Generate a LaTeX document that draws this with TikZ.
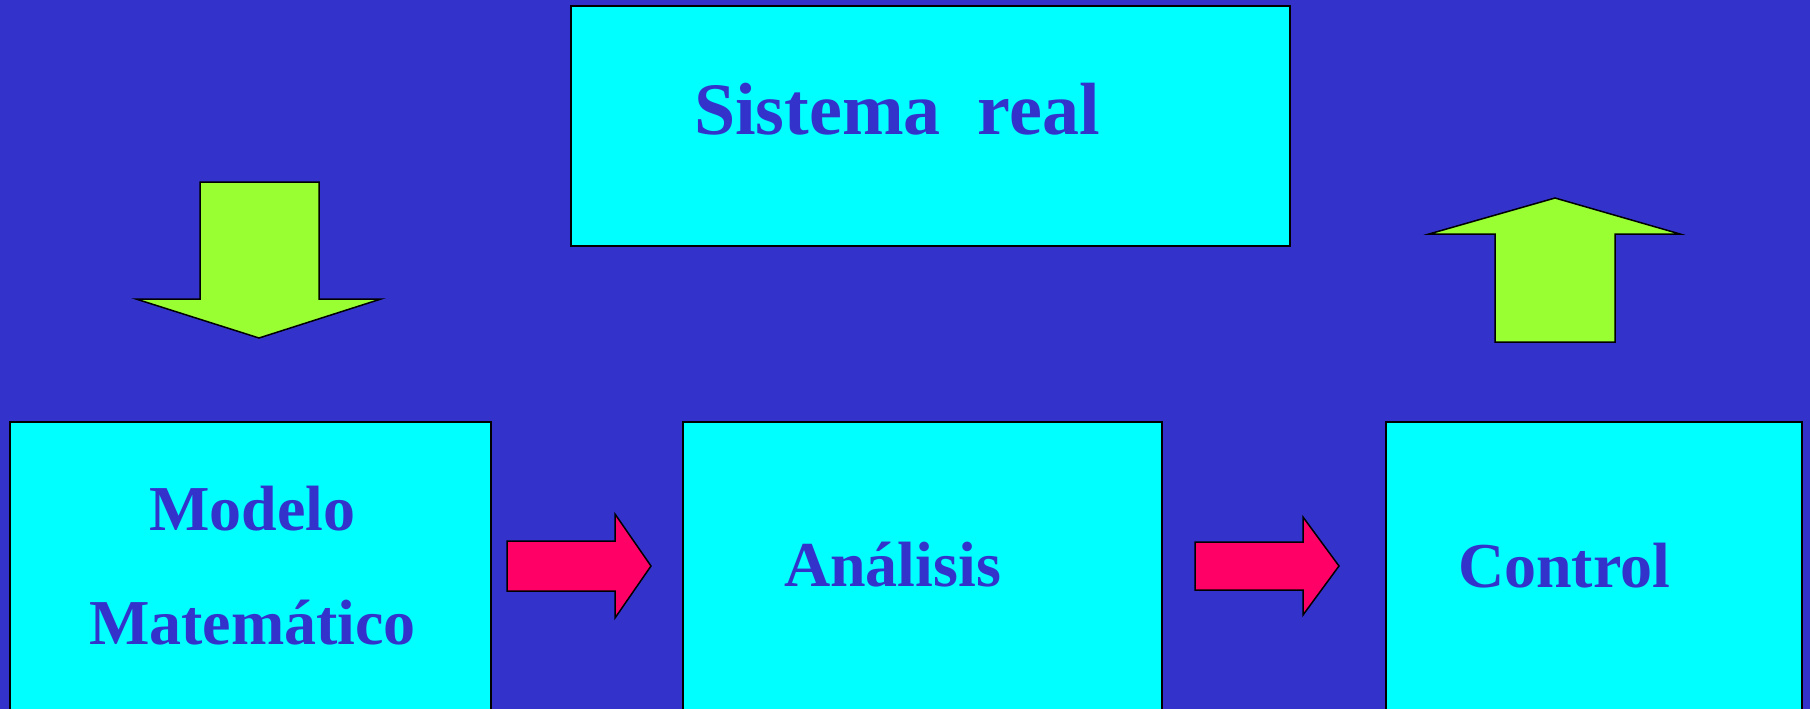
\documentclass[tikz,border=0pt]{standalone}
\usepackage{fontspec}
\setmainfont{Liberation Serif}
\definecolor{bgblue}{RGB}{51,51,204}
\definecolor{boxcyan}{RGB}{0,255,255}
\definecolor{arrgreen}{RGB}{153,255,51}
\definecolor{arrred}{RGB}{255,0,102}
\tikzset{
  box/.style={draw=black, line width=1.5pt, fill=boxcyan, anchor=north west, inner sep=0pt, outer sep=0pt},
  label/.style={anchor=base west, inner sep=0pt, outer sep=0pt, text=bgblue, font=\bfseries\fontsize{64}{64}\selectfont},
  biglabel/.style={anchor=base west, inner sep=0pt, outer sep=0pt, text=bgblue, font=\bfseries\fontsize{74}{74}\selectfont},
  greenarrow/.style={draw=black, line width=1.5pt, fill=arrgreen, line join=miter},
  redarrow/.style={draw=black, line width=1.5pt, fill=arrred, line join=miter}
}
\begin{document}
\begin{tikzpicture}[x=1pt, y=-1pt]
\fill[bgblue] (0,0) rectangle (1810,709);
\useasboundingbox (0,0) rectangle (1810,709);
% boxes
\node[box, minimum width=719pt, minimum height=240pt] (real) at (571,6) {};
\node[box, minimum width=481pt, minimum height=320pt] (modelo) at (10,422) {};
\node[box, minimum width=479pt, minimum height=320pt] (analisis) at (683,422) {};
\node[box, minimum width=416pt, minimum height=320pt] (control) at (1386,422) {};
% labels
\node[biglabel] (treal) at (694,134) {Sistema\ \ real};
\node[label] (tmod1) at (149,530) {Modelo};
\node[label] (tmod2) at (89,644) {Matemático};
\node[label] (tana) at (784,586) {Análisis};
\node[label] (tcon) at (1458,587) {Control};
% green block arrows
\draw[greenarrow] (200,182) -- (319,182) -- (319,299) -- (381,299) -- (259,338) -- (136,299) -- (200,299) -- cycle;
\draw[greenarrow] (1495,342) -- (1615,342) -- (1615,234) -- (1680,234) -- (1555,198) -- (1429,234) -- (1495,234) -- cycle;
% red block arrows
\draw[redarrow] (507,541) -- (615,541) -- (615,514) -- (651,566) -- (615,618) -- (615,591) -- (507,591) -- cycle;
\draw[redarrow] (1195,542) -- (1303,542) -- (1303,517) -- (1339,566) -- (1303,615) -- (1303,590) -- (1195,590) -- cycle;
\end{tikzpicture}
\end{document}
